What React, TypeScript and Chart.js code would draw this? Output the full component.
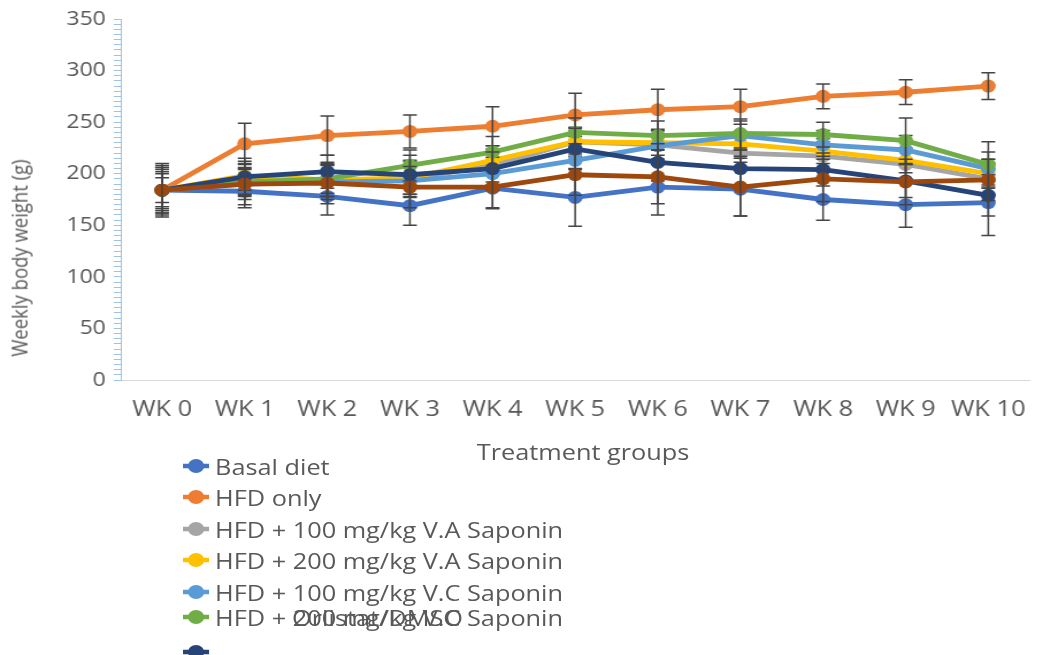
import React, { useEffect, useRef } from "react";
import { Chart, registerables } from "chart.js";

Chart.register(...registerables);

// Week labels on the x axis
const weeks = ["WK 0", "WK 1", "WK 2", "WK 3", "WK 4", "WK 5", "WK 6", "WK 7", "WK 8", "WK 9", "WK 10"];

const seriesNames = [
  "Basal diet",
  "HFD only",
  "HFD + 100 mg/kg V.A Saponin",
  "HFD + 200 mg/kg V.A Saponin",
  "HFD + 100 mg/kg V.C Saponin",
  "HFD + 200 mg/kg V.C Saponin",
  "Orlistat/DMSO",
  "HFD + Orlistat",
];

const seriesColors = ["#4472C4", "#ED7D31", "#A5A5A5", "#FFC000", "#5B9BD5", "#70AD47", "#264478", "#9E480E"];

// Mean weekly body weight (g)
const basalDiet = [184, 183, 178, 169, 186, 177, 187, 185, 175, 170, 172];
const hfdOnly = [184, 229, 237, 241, 246, 257, 262, 265, 275, 279, 285];
const va100 = [184, 192, 193, 195, 208, 231, 228, 220, 217, 209, 195];
const va200 = [184, 198, 194, 196, 213, 231, 230, 229, 222, 213, 200];
const vc100 = [184, 190, 192, 193, 200, 213, 227, 237, 228, 223, 205];
const vc200 = [184, 192, 195, 208, 221, 240, 237, 239, 238, 232, 209];
const orlistatDmso = [184, 197, 202, 199, 205, 224, 211, 205, 204, 193, 179];
const hfdOrlistat = [184, 190, 191, 187, 187, 199, 197, 187, 195, 192, 194];

// Standard deviations (g)
const basalDietSd = [22, 16, 18, 19, 20, 28, 27, 26, 20, 22, 32];
const hfdOnlySd = [24, 20, 19, 16, 19, 21, 20, 17, 12, 12, 13];
const va100Sd = [18, 14, 15, 18, 16, 14, 14, 16, 14, 14, 15];
const va200Sd = [16, 14, 16, 16, 14, 10, 12, 12, 12, 12, 14];
const vc100Sd = [20, 15, 17, 15, 16, 16, 16, 14, 14, 14, 16];
const vc200Sd = [12, 12, 14, 15, 15, 14, 14, 14, 12, 22, 22];
const orlistatDmsoSd = [26, 18, 16, 19, 16, 20, 18, 18, 16, 16, 20];
const hfdOrlistatSd = [22, 20, 20, 20, 20, 20, 26, 28, 22, 22, 20];

const seriesValues = [basalDiet, hfdOnly, va100, va200, vc100, vc200, orlistatDmso, hfdOrlistat];
const seriesSd = [basalDietSd, hfdOnlySd, va100Sd, va200Sd, vc100Sd, vc200Sd, orlistatDmsoSd, hfdOrlistatSd];

const yMin = 0;
const yMax = 350;
const yMajorStep = 50;
const yMinorStep = 5;

// Layout (unstretched coordinates; the whole figure is widened by STRETCH)
const STRETCH = 1.15;
const W = 909;
const H = 655;
const AXIS_LEFT = 105;
const PLOT_TOP = 18;
const PLOT_BOTTOM = 380;
const TEXT = "#595959";
const FONT = "'Open Sans', sans-serif";

// Legend rows: vertical centres
const legendRowY = [466, 497, 529, 560, 592, 617, 652, 684];
const legendMarkerX = 170;
const legendTextX = 187;

const errorBars = {
  id: "errorBars",
  afterDatasetDraw(chart: any, args: any) {
    const { ctx } = chart;
    const y = chart.scales.y;
    const sd = seriesSd[args.index];
    const vals = seriesValues[args.index];
    ctx.save();
    ctx.strokeStyle = "#444444";
    ctx.lineWidth = 1.5;
    args.meta.data.forEach((pt: any, i: number) => {
      const yt = y.getPixelForValue(vals[i] + sd[i]);
      const yb = y.getPixelForValue(vals[i] - sd[i]);
      const cap = 6;
      ctx.beginPath();
      ctx.moveTo(pt.x, yt);
      ctx.lineTo(pt.x, yb);
      ctx.moveTo(pt.x - cap, yt);
      ctx.lineTo(pt.x + cap, yt);
      ctx.moveTo(pt.x - cap, yb);
      ctx.lineTo(pt.x + cap, yb);
      ctx.stroke();
    });
    ctx.restore();
  },
};

function LegendMarker({ color }: { color: string }) {
  return (
    <svg width={23} height={16} style={{ display: "block" }}>
      <line x1={0} y1={8} x2={23} y2={8} stroke={color} strokeWidth={4.5} />
      <circle cx={11.5} cy={8} r={7} fill={color} />
    </svg>
  );
}

export default function App() {
  const canvasRef = useRef<HTMLCanvasElement | null>(null);

  useEffect(() => {
    if (!canvasRef.current) return;
    const n = seriesNames.length;
    const chart = new Chart(canvasRef.current, {
      type: "line",
      data: {
        labels: weeks,
        datasets: seriesNames.map((name, i) => ({
          label: name,
          data: seriesValues[i],
          borderColor: seriesColors[i],
          backgroundColor: seriesColors[i],
          pointBackgroundColor: seriesColors[i],
          pointBorderColor: seriesColors[i],
          borderWidth: 4.8,
          pointRadius: 6.5,
          pointBorderWidth: 0,
          tension: 0,
          fill: false,
          order: n - i,
        })),
      },
      options: {
        animation: false,
        responsive: false,
        layout: { padding: { top: PLOT_TOP, right: 0, bottom: 0, left: 0 } },
        plugins: {
          legend: { display: false },
          tooltip: { enabled: false },
        },
        scales: {
          x: {
            type: "category",
            offset: true,
            grid: { display: false, drawTicks: false, tickLength: 0 },
            border: { display: true, color: "#D9D9D9", width: 1 },
            ticks: {
              color: TEXT,
              font: { family: FONT, size: 22 },
              padding: 17,
              maxRotation: 0,
              autoSkip: false,
            },
            afterFit: (scale: any) => {
              scale.height = H - PLOT_BOTTOM;
            },
          },
          y: {
            min: yMin,
            max: yMax,
            grid: {
              display: true,
              drawOnChartArea: false,
              drawTicks: true,
              tickLength: 6,
              color: "#9DC3E6",
            },
            border: { display: true, color: "#9DC3E6", width: 1 },
            ticks: {
              stepSize: yMinorStep,
              autoSkip: false,
              color: TEXT,
              padding: 7,
              font: { family: FONT, size: 20 },
              callback: (v: any) => (Number(v) % yMajorStep === 0 ? String(v) : ""),
            },
            afterFit: (scale: any) => {
              scale.width = AXIS_LEFT;
            },
          },
        },
      },
      plugins: [errorBars],
    });
    return () => chart.destroy();
  }, []);

  const textStyle: React.CSSProperties = {
    position: "absolute",
    fontFamily: FONT,
    fontSize: 22,
    color: TEXT,
    whiteSpace: "nowrap",
    lineHeight: "26px",
  };

  return (
    <div
      style={{
        position: "fixed",
        left: 0,
        top: 0,
        width: W,
        height: H,
        overflow: "hidden",
        background: "#fff",
        transform: `scaleX(${STRETCH})`,
        transformOrigin: "0 0",
      }}
    >
      <canvas ref={canvasRef} width={W} height={H} style={{ position: "absolute", left: 0, top: 0 }} />
      <div style={{ position: "absolute", left: 17, top: 258, width: 0, height: 0 }}>
        <div
          style={{
            ...textStyle,
            fontSize: 18.5,
            lineHeight: "24px",
            left: 0,
            top: 0,
            transform: "translate(-50%, -50%) rotate(-90deg)",
          }}
        >
          Weekly body weight (g)
        </div>
      </div>
      <div style={{ ...textStyle, left: (AXIS_LEFT + W) / 2, top: 451, transform: "translate(-50%, -50%)" }}>
        Treatment groups
      </div>
      {seriesNames.map((name, i) => {
        // the seventh entry's caption is printed over the sixth row
        const labelRow = i === 6 ? 5 : i;
        const labelX = i === 6 ? 254 : legendTextX;
        return (
          <React.Fragment key={name}>
            <div style={{ position: "absolute", left: legendMarkerX - 11.5, top: legendRowY[i] - 8 }}>
              <LegendMarker color={seriesColors[i]} />
            </div>
            <div style={{ ...textStyle, left: labelX, top: legendRowY[labelRow] - 13 }}>{name}</div>
          </React.Fragment>
        );
      })}
    </div>
  );
}
